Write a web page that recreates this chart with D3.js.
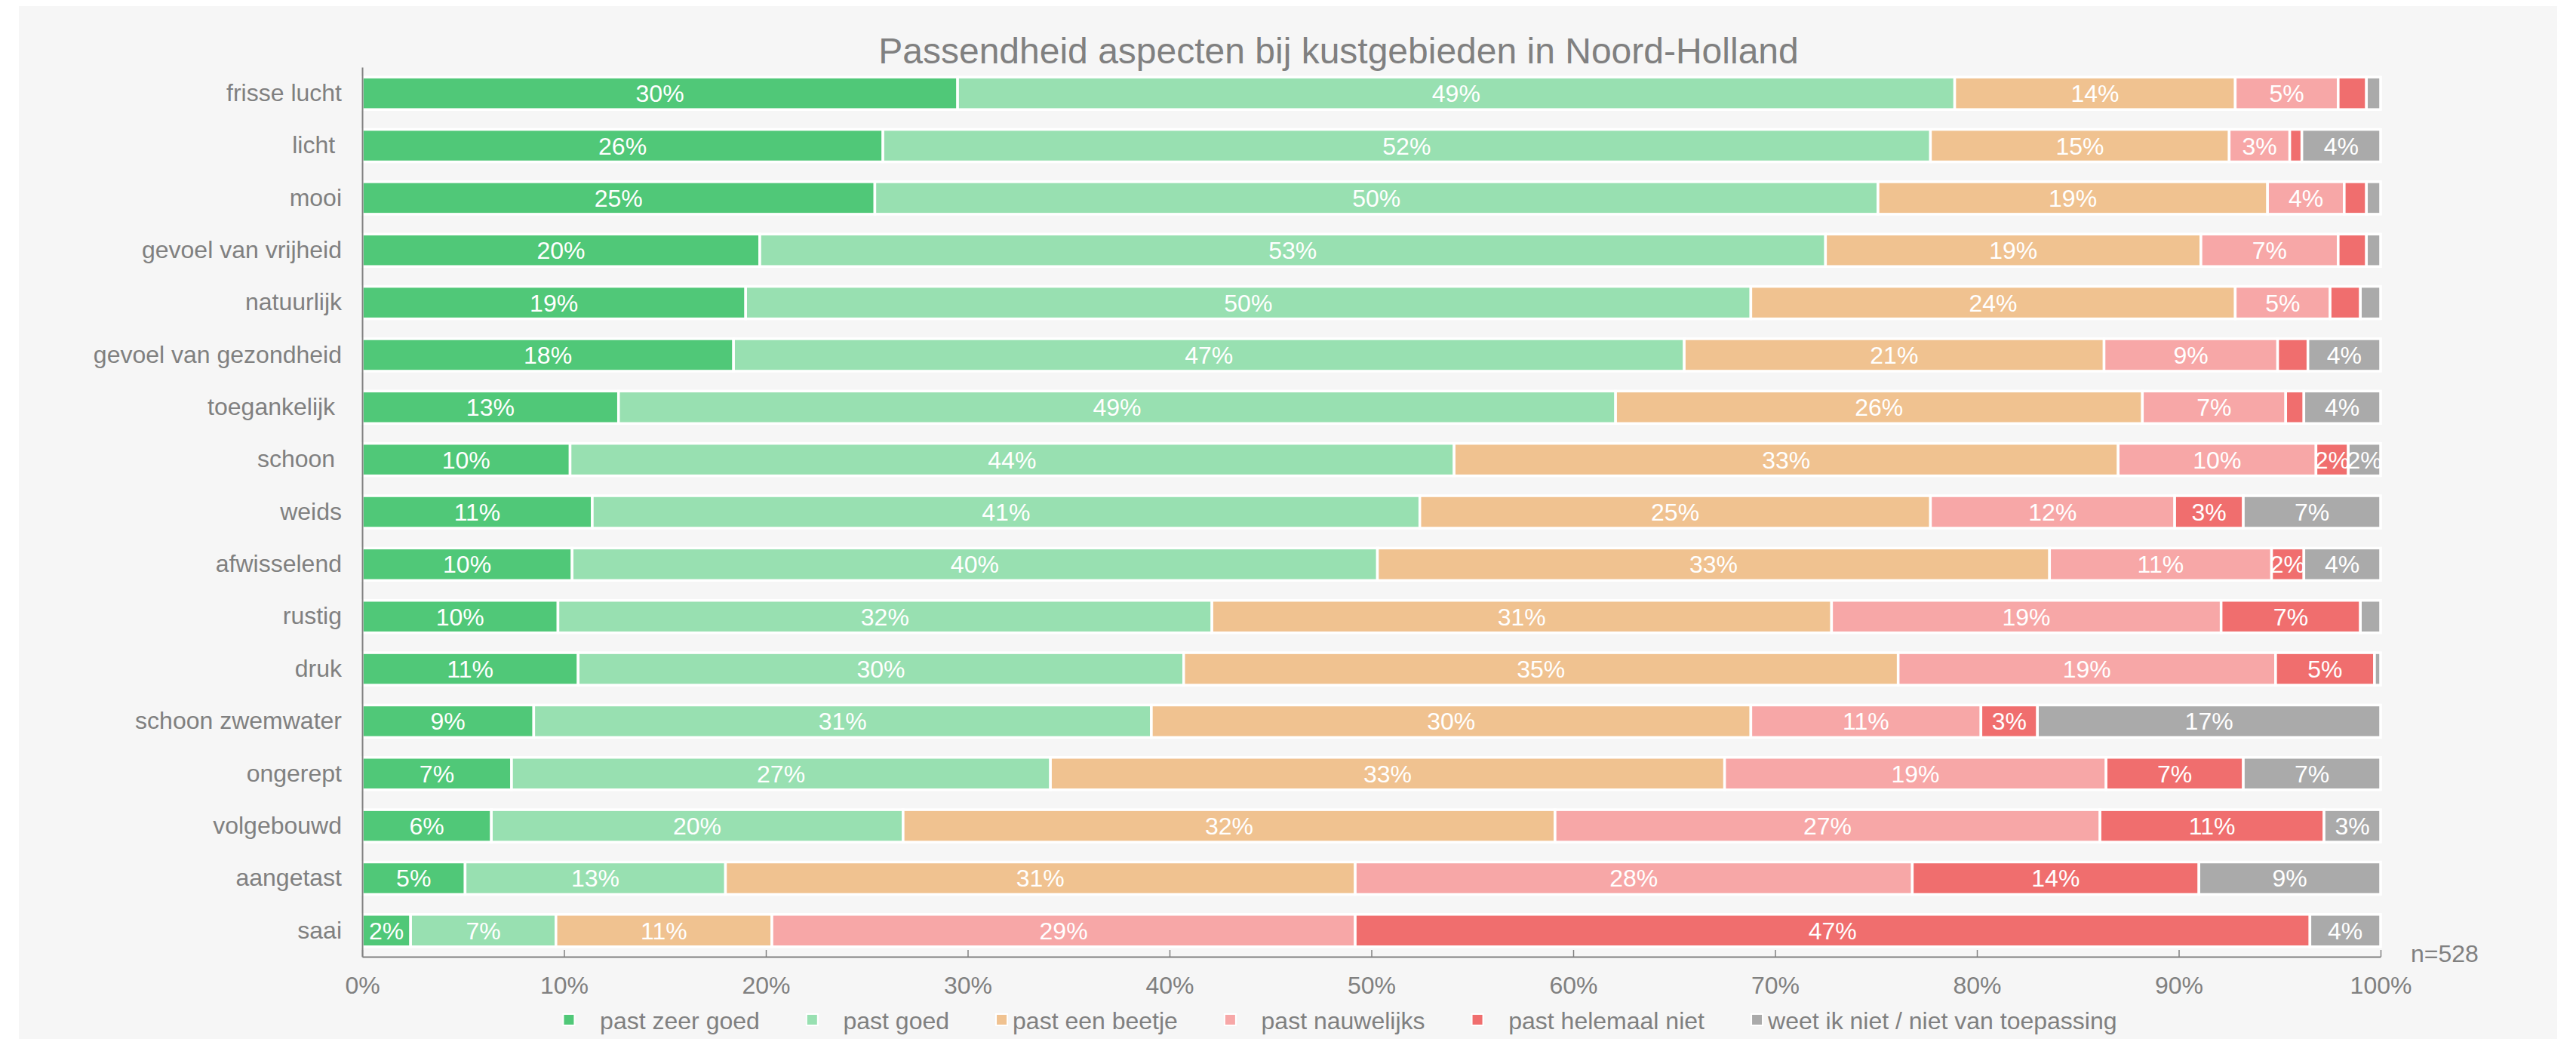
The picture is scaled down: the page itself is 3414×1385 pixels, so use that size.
<!DOCTYPE html>
<html>
<head>
<meta charset="utf-8">
<script src="https://cdn.jsdelivr.net/npm/d3@7"></script>
<style>
  body { margin: 0; background: #fff; }
  text { font-family: "Liberation Sans", Arial, sans-serif; white-space: pre; }
</style>
</head>
<body>
<script>
// aspecten (trailing spaces zoals in de bron)
const categories = ['frisse lucht', 'licht ', 'mooi', 'gevoel van vrijheid', 'natuurlijk',
  'gevoel van gezondheid', 'toegankelijk ', 'schoon ', 'weids', 'afwisselend', 'rustig',
  'druk', 'schoon zwemwater', 'ongerept', 'volgebouwd', 'aangetast', 'saai'];

const seriesNames = ['past zeer goed', 'past goed', 'past een beetje', 'past nauwelijks',
  'past helemaal niet', 'weet ik niet / niet van toepassing'];
// legend labels, some with leading spaces like the original
const legendLabels = ['   past zeer goed', '   past goed', 'past een beetje', '   past nauwelijks',
  '   past helemaal niet', 'weet ik niet / niet van toepassing'];

const zeerGoed     = [29.5, 25.8, 25.4, 19.7, 19.0, 18.4, 12.7, 10.3, 11.4, 10.4, 9.7, 10.7, 8.5, 7.4, 6.4, 5.1, 2.4];
const goed         = [49.4, 51.9, 49.7, 52.8, 49.8, 47.1, 49.4, 43.8, 41.0, 39.9, 32.4, 30.0, 30.6, 26.7, 20.4, 12.9, 7.2];
const beetje       = [13.9, 14.8, 19.3, 18.6, 24.0, 20.8, 26.1, 32.9, 25.3, 33.3, 30.7, 35.4, 29.7, 33.4, 32.3, 31.2, 10.7];
const nauwelijks   = [5.1, 3.0, 3.8, 6.8, 4.7, 8.6, 7.1, 9.8, 12.1, 11.0, 19.3, 18.7, 11.4, 18.9, 27.0, 27.6, 28.9];
const helemaalNiet = [1.4, 0.6, 1.1, 1.4, 1.5, 1.5, 0.9, 1.6, 3.4, 1.6, 6.9, 4.9, 2.8, 6.8, 11.1, 14.2, 47.3];
const weetNiet     = [0.7, 3.9, 0.7, 0.7, 1.0, 3.6, 3.8, 1.6, 6.8, 3.8, 1.0, 0.3, 17.0, 6.8, 2.8, 9.0, 3.5];

const xTicks = [0, 10, 20, 30, 40, 50, 60, 70, 80, 90, 100];
const sampleSize = 'n=528';
const title = 'Passendheid aspecten bij kustgebieden in Noord-Holland';

const colors = ['#50c878', '#98e0b1', '#f0c290', '#f7a7a7', '#f06e6e', '#aaaaaa'];

const W = 3414, H = 1385;
const margin = { left: 480, right: 259, top: 89, bottom: 117 };
const grey = '#808080';
const centerX = 1774;

let all = [zeerGoed, goed, beetje, nauwelijks, helemaalNiet, weetNiet];
let table = categories.map((c, i) => {
    let row = { cat: c };
    seriesNames.forEach((s, j) => { row[s] = all[j][i]; });
    return row;
});

let svg = d3.select('body')
    .append('svg')
    .attr('width', W)
    .attr('height', H);

// panel
svg.append('rect')
    .attr('x', 25).attr('y', 8)
    .attr('width', W - 50).attr('height', H - 16)
    .attr('fill', '#f6f6f6');

let x = d3.scaleLinear()
    .domain([0, 100])
    .range([margin.left, W - margin.right]);

let y = d3.scaleBand()
    .domain(categories)
    .range([margin.top, H - margin.bottom])
    .paddingInner(0.38)
    .paddingOuter(0.19);

let stacked = d3.stack().keys(seriesNames)(table);

let layers = svg.append('g')
    .selectAll('g')
    .data(stacked)
    .join('g')
    .attr('fill', (d, i) => colors[i]);

layers.selectAll('rect')
    .data(d => d)
    .join('rect')
    .attr('x', d => x(d[0]))
    .attr('y', d => y(d.data.cat))
    .attr('width', d => x(d[1]) - x(d[0]))
    .attr('height', y.bandwidth())
    .attr('stroke', '#fff')
    .attr('stroke-width', 3.5);

// waardelabels
layers.selectAll('text')
    .data(d => d.filter(v => v[1] - v[0] >= 1.55))
    .join('text')
    .attr('x', d => (x(d[0]) + x(d[1])) / 2)
    .attr('y', d => y(d.data.cat) + y.bandwidth() / 2)
    .attr('dy', '0.36em')
    .attr('text-anchor', 'middle')
    .attr('fill', '#fff')
    .attr('font-size', 32)
    .text(d => Math.round(d[1] - d[0]) + '%');

// y axis
let yAxis = svg.append('g')
    .attr('transform', `translate(${margin.left},0)`)
    .call(d3.axisLeft(y).tickSize(0).tickPadding(27));
yAxis.select('.domain').attr('stroke', grey).attr('stroke-width', 2);
yAxis.selectAll('text')
    .attr('font-size', 32)
    .attr('fill', grey)
    .style('font-family', '"Liberation Sans", Arial, sans-serif');

// x axis
let xAxis = svg.append('g')
    .attr('transform', `translate(0,${H - margin.bottom})`)
    .call(d3.axisBottom(x).tickValues(xTicks).tickFormat(d => d + '%')
        .tickSizeInner(-9).tickSizeOuter(0).tickPadding(26));
xAxis.select('.domain').attr('stroke', grey).attr('stroke-width', 2);
xAxis.selectAll('line').attr('stroke', grey).attr('stroke-width', 1.5);
xAxis.selectAll('text')
    .attr('font-size', 32)
    .attr('fill', grey)
    .style('font-family', '"Liberation Sans", Arial, sans-serif');

svg.append('text')
    .attr('x', x(100) + 40)
    .attr('y', H - margin.bottom + 7)
    .attr('font-size', 32)
    .attr('fill', grey)
    .text(sampleSize);

svg.append('text')
    .attr('x', centerX)
    .attr('y', 84)
    .attr('text-anchor', 'middle')
    .attr('font-size', 48)
    .attr('fill', grey)
    .text(title);

// legend
let legend = svg.append('g');
let items = legend.selectAll('g')
    .data(legendLabels)
    .join('g');
items.append('rect')
    .attr('width', 15).attr('height', 15)
    .attr('y', -8)
    .attr('fill', (d, i) => colors[i])
    .attr('stroke', '#fff')
    .attr('stroke-width', 2);
items.append('text')
    .attr('x', 22)
    .attr('dy', '0.36em')
    .attr('font-size', 32)
    .attr('fill', grey)
    .text(d => d);

let pos = 0;
items.each(function () {
    let w = this.getBBox().width;
    this._x = pos;
    pos += w + 62;
});
let total = pos - 62;
items.attr('transform', function () {
    return `translate(${centerX + 2 - total / 2 + this._x},1352)`;
});
</script>
</body>
</html>
